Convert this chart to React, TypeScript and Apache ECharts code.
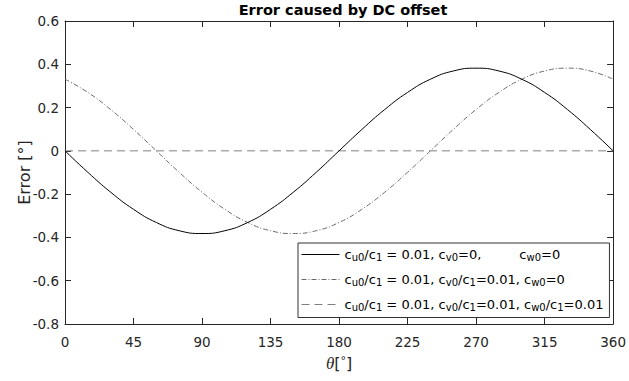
import React, { useEffect, useRef } from "react";
import * as echarts from "echarts";

const angles = [0, 15, 30, 45, 60, 75, 90, 105, 120, 135, 150, 165, 180, 195, 210, 225, 240, 255, 270, 285, 300, 315, 330, 345, 360];
const errU = [0, -0.099, -0.191, -0.27, -0.331, -0.369, -0.382, -0.369, -0.331, -0.27, -0.191, -0.099, 0, 0.099, 0.191, 0.27, 0.331, 0.369, 0.382, 0.369, 0.331, 0.27, 0.191, 0.099, 0];
const errUV = [0.331, 0.27, 0.191, 0.099, 0, -0.099, -0.191, -0.27, -0.331, -0.369, -0.382, -0.369, -0.331, -0.27, -0.191, -0.099, 0, 0.099, 0.191, 0.27, 0.331, 0.369, 0.382, 0.369, 0.331];
const errUVW = [0, 0, 0, 0, 0, 0, 0, 0, 0, 0, 0, 0, 0, 0, 0, 0, 0, 0, 0, 0, 0, 0, 0, 0, 0];
const xTicks = [0, 45, 90, 135, 180, 225, 270, 315, 360];
const yTicks = [-0.8, -0.6, -0.4, -0.2, 0, 0.2, 0.4, 0.6];

const seriesNames = ["s1", "s2", "s3"];
const legendTexts: Record<string, string> = {
  s1: "{n|c}{s|u0}{n|/c}{s|1}{n| = 0.01, c}{s|v0}{n|=0,}{gap| }{n|c}{s|w0}{n|=0}",
  s2: "{n|c}{s|u0}{n|/c}{s|1}{n| = 0.01, c}{s|v0}{n|/c}{s|1}{n|=0.01, c}{s|w0}{n|=0}",
  s3: "{n|c}{s|u0}{n|/c}{s|1}{n| = 0.01, c}{s|v0}{n|/c}{s|1}{n|=0.01, c}{s|w0}{n|/c}{s|1}{n|=0.01}",
};

const font = "'DejaVu Sans', 'Liberation Sans', Arial, sans-serif";
const axisColor = "#262626";

export default function App() {
  const ref = useRef<HTMLDivElement>(null);
  useEffect(() => {
    if (!ref.current) return;
    const chart = echarts.init(ref.current, undefined, { renderer: "svg" });
    const pairs = (ys: number[]) => angles.map((a, i) => [a, ys[i]]);
    const baseX = {
      type: "value" as const,
      min: xTicks[0],
      max: xTicks[xTicks.length - 1],
      interval: 45,
      splitLine: { show: false },
      axisLine: { show: true, onZero: false, lineStyle: { color: axisColor, width: 1 } },
      axisTick: { show: true, inside: true, length: 6, lineStyle: { color: axisColor } },
    };
    const baseY = {
      type: "value" as const,
      min: yTicks[0],
      max: yTicks[yTicks.length - 1],
      interval: 0.2,
      splitLine: { show: false },
      axisLine: { show: true, onZero: false, lineStyle: { color: axisColor, width: 1 } },
      axisTick: { show: true, inside: true, length: 6, lineStyle: { color: axisColor } },
    };
    chart.setOption({
      animation: false,
      backgroundColor: "#ffffff",
      title: {
        text: "Error caused by DC offset",
        left: 343,
        textAlign: "center",
        top: 2,
        padding: 0,
        textStyle: { fontFamily: font, fontSize: 14.5, fontWeight: "bold", color: "#000" },
      },
      grid: { left: 65, right: 10, top: 21, bottom: 57, containLabel: false },
      legend: {
        data: seriesNames,
        orient: "vertical",
        left: 298,
        top: 243,
        padding: [5, 6, 5, 3],
        itemGap: 10.5,
        itemWidth: 38,
        itemHeight: 12,
        borderColor: "#333",
        borderWidth: 1,
        borderRadius: 0,
        backgroundColor: "#fff",
        itemStyle: { opacity: 0 },
        lineStyle: { width: 1 },
        formatter: (name: string) => legendTexts[name],
        textStyle: {
          fontFamily: font,
          color: "#000",
          padding: [0, 0, 0, 0],
          rich: {
            n: { fontFamily: font, fontSize: 13, color: "#000", lineHeight: 16, verticalAlign: "middle" },
            s: { fontFamily: font, fontSize: 10, color: "#000", lineHeight: 2, verticalAlign: "bottom" },
            gap: { width: 38, fontSize: 13, lineHeight: 16 },
          },
        },
      },
      xAxis: [
        {
          ...baseX,
          position: "bottom",
          name: "{th|θ}{n|[}{d|°}{n|]}",
          nameLocation: "middle",
          nameGap: 31,
          nameTextStyle: {
            rich: {
              th: { fontFamily: "'Liberation Serif', 'Times New Roman', serif", fontStyle: "italic", fontSize: 17, color: axisColor },
              n: { fontFamily: font, fontSize: 16, color: axisColor },
              d: { fontFamily: font, fontSize: 11, color: axisColor, verticalAlign: "top", lineHeight: 10 },
            },
          },
          axisLabel: { show: true, fontFamily: font, fontSize: 13.5, color: axisColor, margin: 11 },
        },
        { ...baseX, position: "top", axisLabel: { show: false } },
      ],
      yAxis: [
        {
          ...baseY,
          position: "left",
          name: "Error [°]",
          nameLocation: "middle",
          nameGap: 33,
          nameMoveOverlap: false,
          nameRotate: 90,
          nameTextStyle: { fontFamily: font, fontSize: 16, color: axisColor },
          axisLabel: {
            show: true,
            fontFamily: font,
            fontSize: 13.5,
            color: axisColor,
            margin: 6,
            formatter: (v: number) => (Math.abs(v) < 1e-9 ? "0" : String(Math.round(v * 10) / 10)),
          },
        },
        { ...baseY, position: "right", axisLabel: { show: false } },
      ],
      series: [
        {
          name: "s1",
          type: "line",
          data: pairs(errU),
          smooth: true,
          symbol: "none",
          lineStyle: { color: "#000000", width: 1 },
          itemStyle: { color: "#000000" },
          z: 3,
        },
        {
          name: "s2",
          type: "line",
          data: pairs(errUV),
          smooth: true,
          symbol: "none",
          lineStyle: { color: "#6a6a6a", width: 1, type: [5, 2, 1, 2] },
          itemStyle: { color: "#6a6a6a" },
          z: 2,
        },
        {
          name: "s3",
          type: "line",
          data: pairs(errUVW),
          symbol: "none",
          lineStyle: { color: "#808080", width: 1, type: [8, 5] },
          itemStyle: { color: "#808080" },
          z: 1,
        },
      ],
    });
    return () => chart.dispose();
  }, []);
  return <div ref={ref} style={{ position: "fixed", left: 0, top: 0, width: 629, height: 381 }} />;
}
